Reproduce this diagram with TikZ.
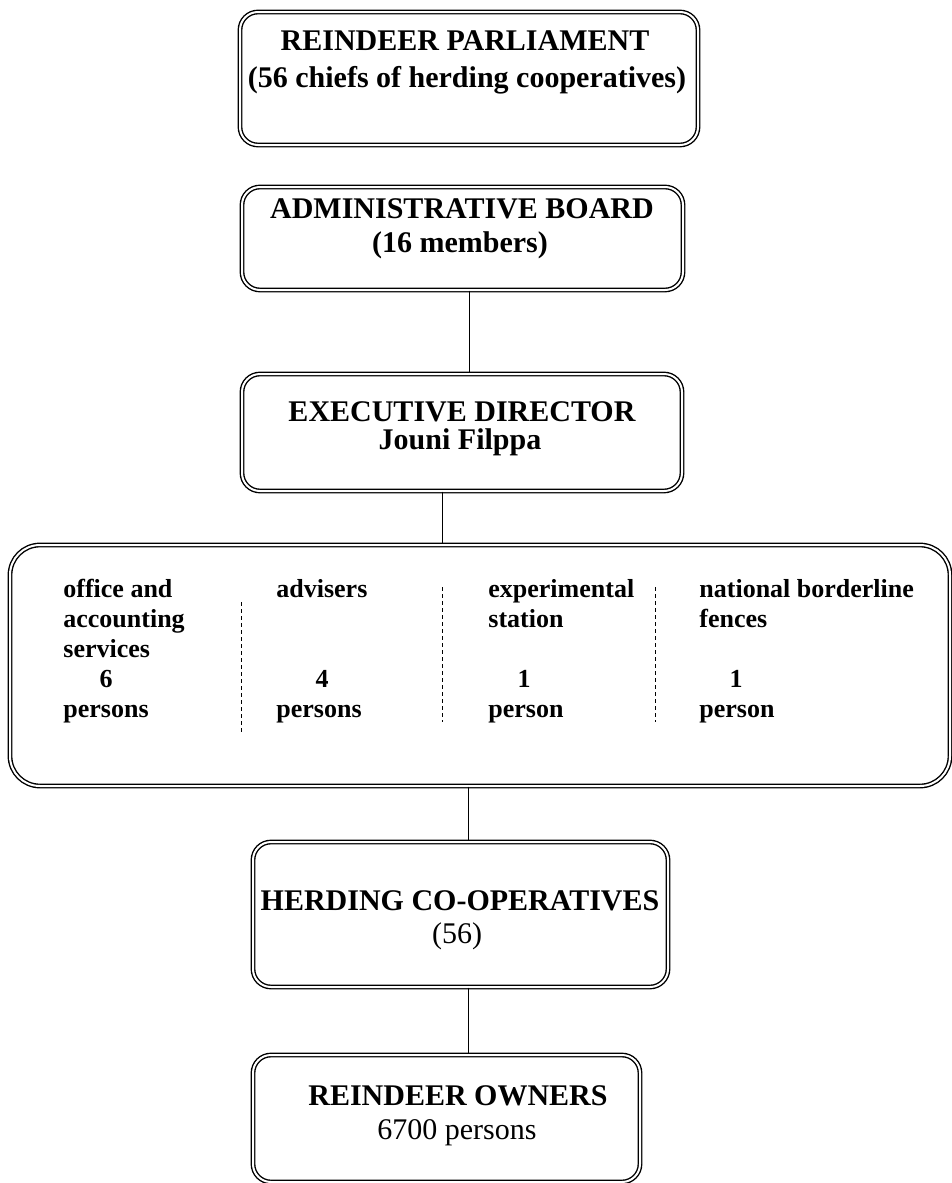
\documentclass[tikz,border=0pt]{standalone}
\usepackage{fontspec}
\setmainfont{Liberation Serif}
\begin{document}
\begin{tikzpicture}[x=0.5pt, y=-0.5pt,
  box/.style={draw, double, double distance=1pt, line width=0.7pt, rounded corners=9pt, inner sep=0pt},
  link/.style={line width=0.5pt},
  sep/.style={line width=0.5pt, dash pattern=on 2pt off 1.5pt},
  head/.style={anchor=base, inner sep=0pt, font=\fontsize{15}{18}\selectfont\bfseries},
  sub/.style={anchor=base, inner sep=0pt, font=\fontsize{15}{18}\selectfont},
  cell/.style={anchor=base west, inner sep=0pt, font=\fontsize{13}{15}\selectfont\bfseries},
  num/.style={anchor=base, inner sep=0pt, font=\fontsize{13}{15}\selectfont\bfseries}]
\useasboundingbox (0,0) rectangle (952,1183);
% boxes
\node[box, minimum width=229pt, minimum height=66.5pt] (parliament) at (469,78.5) {};
\node[box, minimum width=220.5pt, minimum height=51.5pt] (board) at (462.5,238.5) {};
\node[box, minimum width=220pt, minimum height=58.5pt] (director) at (462,432.5) {};
\node[box, rounded corners=15pt, minimum width=470pt, minimum height=120.5pt] (staff) at (480,665.5) {};
\node[box, minimum width=207.5pt, minimum height=72.5pt] (coops) at (460.5,914.5) {};
\node[box, minimum width=193.5pt, minimum height=63.5pt] (owners) at (446.5,1118.5) {};
% connectors
\draw[link] ([xshift=3.25pt]board.south) -- ([xshift=3.5pt]director.north);
\draw[link] ([xshift=-10pt]director.south) -- ([xshift=-19pt]staff.north);
\draw[link] ([xshift=-6pt]staff.south) -- ([xshift=3.75pt]coops.north);
\draw[link] ([xshift=3.75pt]coops.south) -- ([xshift=10.75pt]owners.north);
% texts
\node[head] (parliamentA) at (465,50) {REINDEER PARLIAMENT};
\node[head] (parliamentB) at (467,87) {(56 chiefs of herding cooperatives)};
\node[head] (boardA) at (462,218) {ADMINISTRATIVE BOARD};
\node[head] (boardB) at (460,252) {(16 members)};
\node[head] (directorA) at (462,421) {EXECUTIVE DIRECTOR};
\node[head] (directorB) at (460,449) {Jouni Filppa};
\node[head] (coopsA) at (460,910) {HERDING CO-OPERATIVES};
\node[sub] (coopsB) at (457,943) {(56)};
\node[head] (ownersA) at (458,1105) {REINDEER OWNERS};
\node[sub] (ownersB) at (457,1139) {6700 persons};
% staff columns
\draw[sep] (241,602) -- (241,735);
\draw[sep] (442,587) -- (442,722);
\draw[sep] (655,587) -- (655,722);
\foreach \x/\y/\t in {63/597/office and, 63/627/accounting, 63/657/services, 63/717/persons,
  276/597/advisers, 276/717/persons,
  488/597/experimental, 488/627/station, 488/717/person,
  699/597/national borderline, 699/627/fences, 699/717/person}
  \node[cell] (cell\x-\y) at (\x,\y) {\t};
\foreach \x/\t in {106/6, 322/4, 524/1, 736/1}
  \node[num] (num\x) at (\x,687) {\t};
\end{tikzpicture}
\end{document}
